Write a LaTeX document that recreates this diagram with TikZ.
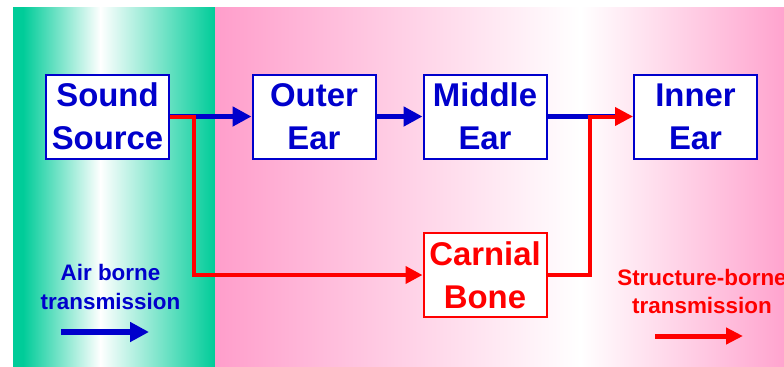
\documentclass[tikz,border=0pt]{standalone}
\usepackage{fontspec}
\setmainfont{Liberation Sans}
\usetikzlibrary{arrows.meta}
\definecolor{bandteal}{HTML}{00CC99}
\definecolor{bandpink}{HTML}{FF9ECB}
\definecolor{airblue}{HTML}{0000CC}
\definecolor{bonered}{HTML}{FF0000}

\begin{document}
\begin{tikzpicture}[x=1bp,y=-1bp,
  stage/.style={draw=airblue, line width=2bp, fill=white, text=airblue,
    minimum width=123bp, minimum height=84bp, inner sep=0pt, align=center,
    font=\fontsize{33}{43}\selectfont\bfseries},
  bonebox/.style={stage, draw=bonered, text=bonered},
  airflow/.style={draw=airblue, line width=5.5bp, -{Triangle[length=19bp,width=19bp]}},
  boneflow/.style={draw=bonered, line width=4bp, -{Triangle[length=17bp,width=17bp]}},
  legend/.style={align=center, font=\fontsize{22.5}{29}\selectfont\bfseries}
]
\useasboundingbox (0,0) rectangle (784,366);
\fill[white] (0,0) rectangle (784,366);

% teal band (air side)
\fill[bandteal] (13,7) rectangle (23.5,368);
\shade[left color=bandteal, right color=white] (23,7) rectangle (100.5,368);
\shade[left color=white, right color=bandteal] (100,7) rectangle (215,368);
% pink band (structure side)
\shade[left color=bandpink, right color=white] (215,7) rectangle (580.5,368);
\shade[left color=white, right color=bandpink!95!white] (580,7) rectangle (786,368);

% stages
\node[stage] (src) at (107.5,116.5) {Sound\\Source};
\node[stage] (outer) at (314,116.5) {Outer\\Ear};
\node[stage] (middle) at (485,116.5) {Middle\\Ear};
\node[stage] (inner) at (695.5,116.5) {Inner\\Ear};
\node[bonebox] (bone) at (485,275) {Carnial\\Bone};

% air-borne path
\draw[airflow] (src.east) -- (outer.west);
\draw[airflow] (outer.east) -- (middle.west);
\draw[airflow, -, shorten >=16bp] (middle.east) -- (inner.west);

% structure-borne path
\coordinate (splitL) at (194,275);
\coordinate (joinR) at (590,275);
\draw[boneflow] (src.east) -| (splitL) -- (bone.west);
\draw[boneflow, -{Triangle[length=18bp,width=18bp]}] (bone.east) -- (joinR) |- (inner.west);

% legend
\node[legend, text=airblue] (airlabel) at (110.5,287.3) {Air borne\\transmission};
\coordinate (airA) at (61,332);
\coordinate (airB) at (149,332);
\draw[airflow, line width=6.5bp] (airA) -- (airB);

\node[legend, text=bonered, font=\fontsize{22.5}{27.5}\selectfont\bfseries] (bonelabel) at (702,291.3) {Structure-borne\\transmission};
\coordinate (boneA) at (655,336);
\coordinate (boneB) at (743,336);
\draw[boneflow, line width=5bp, -{Triangle[length=17bp,width=16bp]}] (boneA) -- (boneB);
\end{tikzpicture}
\end{document}
